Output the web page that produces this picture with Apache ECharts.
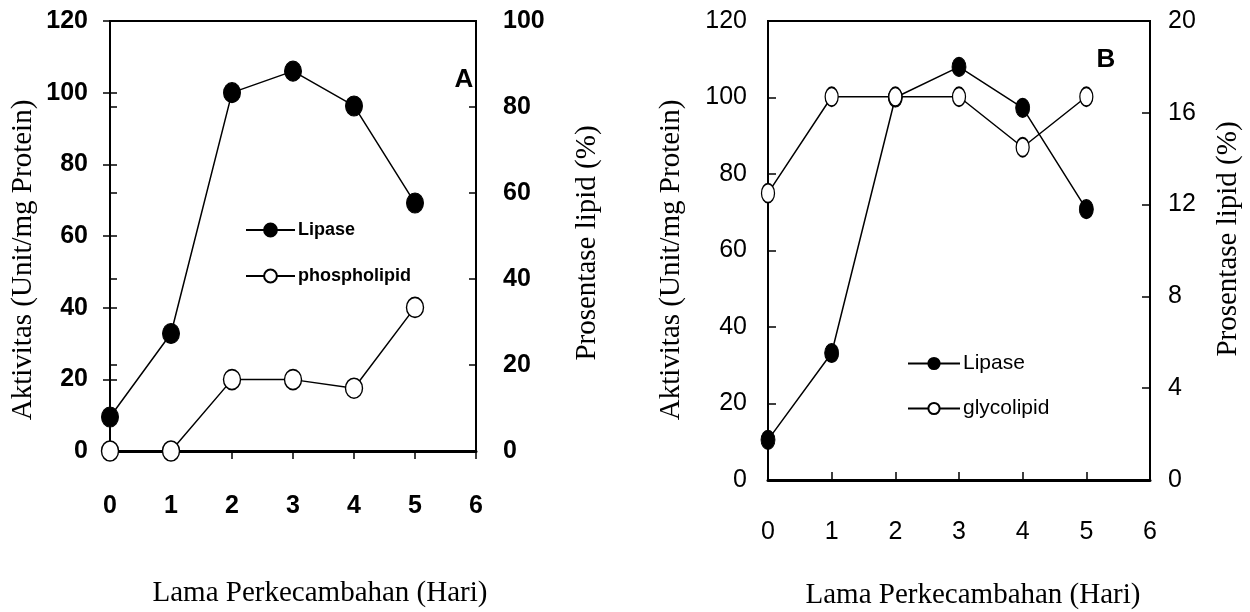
<!DOCTYPE html>
<html><head><meta charset="utf-8">
<script src="https://cdn.jsdelivr.net/npm/echarts@6/dist/echarts.min.js"></script>
<style>html,body{margin:0;padding:0;background:#fff}#c{width:1250px;height:612px}</style>
</head><body><div id="c"></div>
<script>
// ---- data ----
const days = [0, 1, 2, 3, 4, 5];
const lipaseA = [9.5, 32.8, 100, 106, 96.3, 69.2];
const phospholipidA = [0, 0, 16.6, 16.6, 14.6, 33.4];
const lipaseB = [10.5, 33.2, 100, 108, 97.3, 70.8];
const glycolipidB = [12.5, 16.7, 16.7, 16.7, 14.5, 16.7];
const xTitle = 'Lama Perkecambahan (Hari)';
const yLeftTitle = 'Aktivitas (Unit/mg Protein)';
const yRightTitle = 'Prosentase lipid (%)';

const pairs = (xs, ys) => xs.map((x, i) => [x, ys[i]]);
const narrow = "'Liberation Sans Narrow', 'Arial Narrow', 'Liberation Sans', Arial, sans-serif";
const serif = "'Liberation Serif', 'Times New Roman', serif";
const sans = "'Liberation Sans', Arial, sans-serif";

const chart = echarts.init(document.getElementById('c'), null, {renderer: 'canvas'});

function labA(margin) {
  return {color: '#000', fontFamily: narrow, fontWeight: 'bold', fontSize: 25, margin: margin};
}
function labB(margin) {
  return {color: '#000', fontFamily: narrow, fontSize: 25, margin: margin};
}
const blackLine = w => ({show: true, lineStyle: {color: '#000', width: w}});

const option = {
  animation: false,
  backgroundColor: '#fff',
  grid: [
    {left: 110, top: 21, width: 366, height: 430, show: true, borderColor: '#000', borderWidth: 2, backgroundColor: 'transparent'},
    {left: 768, top: 21, width: 382, height: 459, show: true, borderColor: '#000', borderWidth: 2, backgroundColor: 'transparent'}
  ],
  xAxis: [
    {gridIndex: 0, type: 'value', min: 0, max: 6, interval: 1, axisLine: blackLine(3),
     axisTick: {show: true, inside: false, length: 8, lineStyle: {color: '#000', width: 1.5}},
     axisLabel: labA(43), splitLine: {show: false}},
    {gridIndex: 0, type: 'value', min: 0, max: 6, interval: 1, axisLine: {show: false},
     axisTick: {show: true, inside: true, length: 6, lineStyle: {color: '#000', width: 1.5}},
     axisLabel: {show: false}, splitLine: {show: false}},
    {gridIndex: 1, type: 'value', min: 0, max: 6, interval: 1, axisLine: blackLine(3),
     axisTick: {show: true, inside: true, length: 8, lineStyle: {color: '#000', width: 1.5}},
     axisLabel: labB(40), splitLine: {show: false}}
  ],
  yAxis: [
    {gridIndex: 0, type: 'value', position: 'left', min: 0, max: 120, interval: 20, axisLine: blackLine(2),
     axisTick: {show: true, inside: false, length: 7, lineStyle: {color: '#000', width: 1.5}},
     axisLabel: labA(22), splitLine: {show: false}},
    {gridIndex: 0, type: 'value', position: 'right', min: 0, max: 100, interval: 20, axisLine: blackLine(2),
     axisTick: {show: true, inside: false, length: 7, lineStyle: {color: '#000', width: 1.5}},
     axisLabel: labA(27), splitLine: {show: false}},
    {gridIndex: 0, type: 'value', position: 'left', min: 0, max: 120, interval: 20, axisLine: {show: false},
     axisTick: {show: true, inside: true, length: 7, lineStyle: {color: '#000', width: 1.5}},
     axisLabel: {show: false}, splitLine: {show: false}},
    {gridIndex: 0, type: 'value', position: 'right', min: 0, max: 100, interval: 20, axisLine: {show: false},
     axisTick: {show: true, inside: true, length: 7, lineStyle: {color: '#000', width: 1.5}},
     axisLabel: {show: false}, splitLine: {show: false}},
    {gridIndex: 1, type: 'value', position: 'left', min: 0, max: 120, interval: 20, axisLine: blackLine(2),
     axisTick: {show: true, inside: true, length: 8, lineStyle: {color: '#000', width: 1.5}},
     axisLabel: labB(21), splitLine: {show: false}},
    {gridIndex: 1, type: 'value', position: 'right', min: 0, max: 20, interval: 4, axisLine: blackLine(2),
     axisTick: {show: true, inside: true, length: 8, lineStyle: {color: '#000', width: 1.5}},
     axisLabel: labB(18), splitLine: {show: false}}
  ],
  legend: [
    {orient: 'vertical', left: 240, top: 216, itemWidth: 49, itemHeight: 16, itemGap: 28,
     data: ['Lipase', 'phospholipid'],
     textStyle: {fontFamily: narrow, fontWeight: 'bold', fontSize: 18, color: '#000', padding: [0, 0, 0, -2]}},
    {orient: 'vertical', left: 902, top: 348, itemWidth: 52, itemHeight: 14, itemGap: 24,
     data: ['Lipase ', 'glycolipid'],
     textStyle: {fontFamily: narrow, fontSize: 21, color: '#000', padding: [0, 0, 0, -2]}}
  ],
  series: [
    {name: 'Lipase', type: 'line', xAxisIndex: 0, yAxisIndex: 0, data: pairs(days, lipaseA),
     symbol: 'circle', symbolSize: [17, 20], lineStyle: {color: '#000', width: 1.5},
     itemStyle: {color: '#000', borderColor: '#000', borderWidth: 1}},
    {name: 'phospholipid', type: 'line', xAxisIndex: 0, yAxisIndex: 1, data: pairs(days, phospholipidA),
     symbol: 'circle', symbolSize: [17, 20], lineStyle: {color: '#000', width: 1.5},
     itemStyle: {color: '#fff', borderColor: '#000', borderWidth: 1.5}},
    {name: 'Lipase ', type: 'line', xAxisIndex: 2, yAxisIndex: 4, data: pairs(days, lipaseB),
     symbol: 'circle', symbolSize: [14, 19], lineStyle: {color: '#000', width: 1.5},
     itemStyle: {color: '#000', borderColor: '#000', borderWidth: 1}},
    {name: 'glycolipid', type: 'line', xAxisIndex: 2, yAxisIndex: 5, data: pairs(days, glycolipidB),
     symbol: 'circle', symbolSize: [13, 19], lineStyle: {color: '#000', width: 1.5},
     itemStyle: {color: '#fff', borderColor: '#000', borderWidth: 1.5}}
  ],
  graphic: [
    {type: 'text', x: 23, y: 260, rotation: Math.PI / 2, style: {text: yLeftTitle, font: '29px ' + serif, fill: '#000', align: 'center', verticalAlign: 'middle'}},
    {type: 'text', x: 587, y: 243, rotation: Math.PI / 2, style: {text: yRightTitle, font: '29px ' + serif, fill: '#000', align: 'center', verticalAlign: 'middle'}},
    {type: 'text', x: 320, y: 593, style: {text: xTitle, font: '29px ' + serif, fill: '#000', align: 'center', verticalAlign: 'middle'}},
    {type: 'text', x: 464, y: 80, style: {text: 'A', font: 'bold 26px ' + sans, fill: '#000', align: 'center', verticalAlign: 'middle'}},
    {type: 'text', x: 671, y: 260, rotation: Math.PI / 2, style: {text: yLeftTitle, font: '29px ' + serif, fill: '#000', align: 'center', verticalAlign: 'middle'}},
    {type: 'text', x: 1228, y: 239, rotation: Math.PI / 2, style: {text: yRightTitle, font: '29px ' + serif, fill: '#000', align: 'center', verticalAlign: 'middle'}},
    {type: 'text', x: 973, y: 595, style: {text: xTitle, font: '29px ' + serif, fill: '#000', align: 'center', verticalAlign: 'middle'}},
    {type: 'text', x: 1106, y: 60, style: {text: 'B', font: 'bold 26px ' + sans, fill: '#000', align: 'center', verticalAlign: 'middle'}}
  ]
};
chart.setOption(option);
</script>
</body></html>
